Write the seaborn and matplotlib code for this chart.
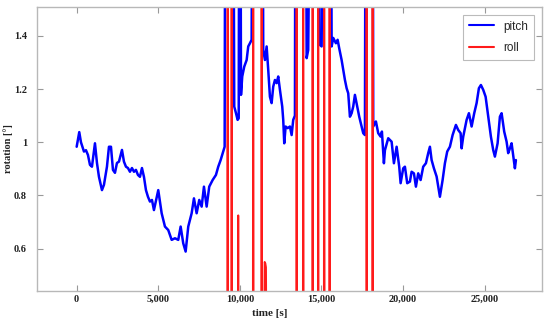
import matplotlib
matplotlib.use("Agg")
import matplotlib.pyplot as plt
import seaborn as sns
from matplotlib.ticker import FuncFormatter

# pitch trace (time in s, rotation in deg); 2.0 = off the top of the scale
pitch_t = [
    0, 159, 263, 447, 570, 692, 815, 937, 1121, 1244, 1366, 1550, 1673, 1856,
    1979, 2102, 2224, 2347, 2469, 2592, 2776, 2898, 3021, 3143, 3266, 3388,
    3511, 3633, 3756, 3878, 4001, 4123, 4246, 4369, 4491, 4614, 4736, 5000,
    5208, 5410, 5612, 5821, 6023, 6225, 6372, 6531, 6678, 6838, 7046, 7187,
    7352, 7512, 7659, 7800, 7965, 8124, 8333, 8535, 8676, 8823, 8982, 9068,
    9100, 9610, 9656, 9760, 9864, 9930, 9960, 10040, 10070, 10146, 10269,
    10416, 10514, 10618, 10722, 10760, 11400, 11433, 11537, 11641, 11739,
    11843, 11947, 12045, 12150, 12254, 12352, 12456, 12597, 12658, 12720,
    12805, 12928, 13069, 13173, 13271, 13375, 13400, 14060, 14092, 14190,
    14290, 14840, 14864, 15011, 15080, 15590, 15624, 15722, 15887, 15991,
    16089, 16236, 16335, 16439, 16543, 16641, 16745, 16849, 16947, 17051,
    17192, 17315, 17462, 17560, 17664, 17700, 18150, 18173, 18338, 18479,
    18626, 18706, 18828, 18890, 19092, 19300, 19441, 19607, 19766, 19852,
    20011, 20115, 20256, 20421, 20525, 20666, 20789, 20930, 21077, 21236,
    21402, 21543, 21647, 21751, 21892, 22057, 22259, 22425, 22566, 22707,
    22872, 23038, 23240, 23381, 23528, 23589, 23688, 23896, 24037, 24202,
    24362, 24508, 24649, 24772, 24913, 25060, 25219, 25384, 25525, 25629,
    25795, 25936, 26040, 26199, 26346, 26444, 26549, 26652, 26750, 26855,
    26916,
]
pitch_v = [
    0.983, 1.038, 1.0, 0.965, 0.97, 0.952, 0.915, 0.908, 0.996, 0.922, 0.87,
    0.82, 0.84, 0.908, 0.983, 0.983, 0.896, 0.885, 0.922, 0.927, 0.971, 0.927,
    0.908, 0.903, 0.889, 0.903, 0.889, 0.896, 0.877, 0.87, 0.903, 0.87, 0.82,
    0.795, 0.777, 0.783, 0.745, 0.82, 0.733, 0.683, 0.67, 0.633, 0.639, 0.633,
    0.683, 0.62, 0.589, 0.683, 0.733, 0.789, 0.733, 0.783, 0.758, 0.833,
    0.758, 0.833, 0.858, 0.877, 0.908, 0.933, 0.965, 0.983,
    2.0, 2.0, 1.134, 1.11, 1.084, 1.09, 2.0, 2.0, 1.178, 1.247, 1.284,
    1.309, 1.36, 1.372, 1.385, 2.0, 2.0, 1.347, 1.309, 1.36, 1.272,
    1.171, 1.147, 1.209, 1.234, 1.222, 1.247, 1.197, 1.134, 1.084, 0.996,
    1.059, 1.053, 1.059, 1.027, 1.084, 1.1, 2.0, 2.0, 1.316, 1.347,
    2.0, 2.0, 1.368, 1.36, 2.0, 2.0, 1.36, 1.392, 1.372, 1.385,
    1.353, 1.309, 1.272, 1.234, 1.203, 1.184, 1.096, 1.109, 1.134, 1.178,
    1.134, 1.096, 1.059, 1.034, 1.027, 2.0, 2.0, 1.059, 1.078, 1.034,
    1.021, 1.04, 0.921, 0.97, 1.015, 1.002, 0.921, 0.983, 0.908, 0.846,
    0.902, 0.908, 0.846, 0.852, 0.889, 0.883, 0.833, 0.883, 0.858, 0.908,
    0.921, 0.959, 0.983, 0.933, 0.902, 0.871, 0.795, 0.858, 0.921, 0.965,
    0.983, 1.027, 1.065, 1.046, 1.034, 0.977, 1.021, 1.084, 1.109, 1.059,
    1.109, 1.147, 1.203, 1.215, 1.197, 1.171, 1.096, 1.021, 0.971, 0.946,
    0.996, 1.096, 1.109, 1.04, 1.002, 0.959, 0.977, 0.996, 0.952, 0.902,
    0.933,
]

# roll trace: mostly below the visible range, with short spikes
roll_t = [
    0, 9230, 9252, 9275, 9475, 9497, 9520, 9880, 9901, 9920,
    10800, 10820, 10840, 11315, 11335, 11355, 11500, 11520, 11560, 11600,
    11620, 13460, 13480, 13500, 13865, 13884, 13905, 14440, 14460, 14480,
    14785, 14803, 14820, 15150, 15170, 15190, 15480, 15501, 15520,
    17750, 17768, 17790, 18115, 18136, 18155, 26900,
]
roll_v = [
    0.3, 0.3, 2.0, 0.3, 0.3, 2.0, 0.3, 0.3, 0.725, 0.3,
    0.3, 2.0, 0.3, 0.3, 2.0, 0.3, 0.3, 0.55, 0.545, 0.53,
    0.3, 0.3, 2.0, 0.3, 0.3, 2.0, 0.3, 0.3, 2.0, 0.3,
    0.3, 2.0, 0.3, 0.3, 2.0, 0.3, 0.3, 2.0, 0.3,
    0.3, 2.0, 0.3, 0.3, 2.0, 0.3, 0.3,
]

x_ticks = [0, 5000, 10000, 15000, 20000, 25000]
y_ticks = [0.6, 0.8, 1.0, 1.2, 1.4]

sns.set_theme(style="white")
plt.rcParams["font.family"] = ["Liberation Serif", "DejaVu Serif"]

fig = plt.figure(figsize=(5.5, 3.2), dpi=100)
ax = fig.add_axes([0.0667, 0.0916, 0.918, 0.888])

sns.lineplot(x=pitch_t, y=pitch_v, ax=ax, color="#0000ff", linewidth=1.8,
             sort=False, estimator=None, label="pitch")
sns.lineplot(x=roll_t, y=roll_v, ax=ax, color="#ff1a1a", linewidth=1.4,
             sort=False, estimator=None, label="roll")

ax.set_xlim(-2450, 28490)
ax.set_ylim(0.442, 1.51)
ax.set_xticks(x_ticks)
ax.set_yticks(y_ticks)
ax.xaxis.set_major_formatter(FuncFormatter(lambda v, p: f"{int(v):,}"))
ax.yaxis.set_major_formatter(FuncFormatter(lambda v, p: f"{v:g}"))

for side in ["top", "right", "bottom", "left"]:
    ax.spines[side].set_visible(True)
    ax.spines[side].set_color("#b8b8b8")
    ax.spines[side].set_linewidth(1.0)

ax.tick_params(axis="both", direction="in", length=4, width=0.8,
               color="#999999", top=True, right=True, bottom=True, left=True,
               labelsize=7.5, labelcolor="#222222")
ax.tick_params(axis="y", pad=7)
ax.tick_params(axis="x", pad=3)
for lab in ax.get_xticklabels() + ax.get_yticklabels():
    lab.set_fontweight("bold")

ax.set_xlabel("time [s]", fontsize=8, fontweight="bold", color="#222222")
ax.xaxis.set_label_coords(0.462, -0.065)
ax.set_ylabel("rotation [°]", fontsize=7.5, fontweight="bold", color="#222222")
ax.yaxis.set_label_coords(-0.047, 0.5)

leg = ax.legend(loc="upper right", fancybox=False, frameon=True,
                prop={"family": "Liberation Sans", "size": 8.5},
                handlelength=2.1, borderpad=0.5, labelspacing=0.8,
                bbox_to_anchor=(0.997, 0.992))
leg.get_frame().set_edgecolor("#aaaaaa")
leg.get_frame().set_linewidth(0.8)
for line in leg.get_lines():
    line.set_linewidth(1.5)

fig.savefig("out.png", dpi=100)
